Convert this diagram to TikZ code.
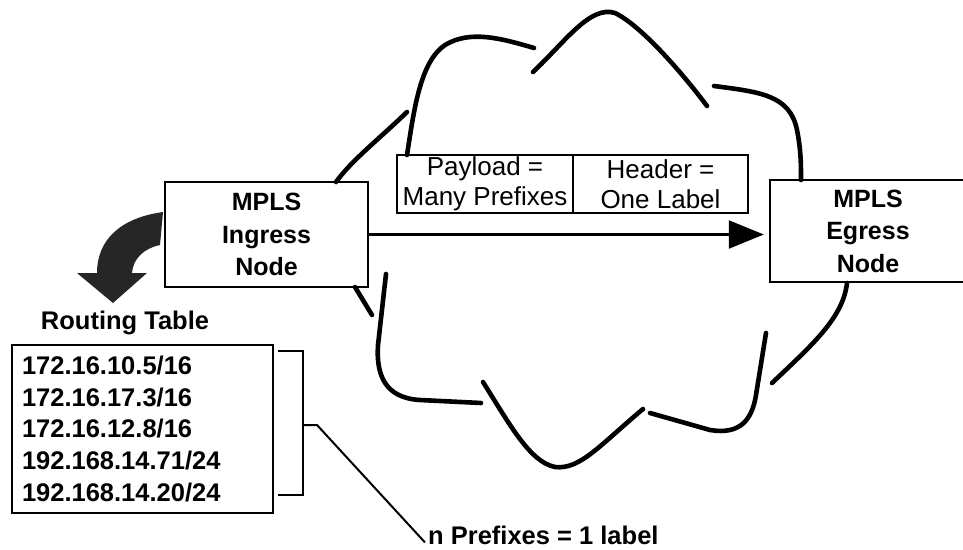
\documentclass[tikz,border=0pt]{standalone}
\usepackage{fontspec}
\setmainfont{Liberation Sans}
\usetikzlibrary{arrows.meta}
\begin{document}
\begin{tikzpicture}[x=1pt,y=-1pt,
  boxline/.style={line width=2.4pt},
  nodebox/.style={draw, boxline, inner sep=0pt, align=center,
    font=\fontsize{25}{32.5}\selectfont\bfseries},
  pktbox/.style={draw, line width=2pt, inner sep=0pt, align=center,
    minimum height=58, font=\fontsize{26}{29.5}\selectfont},
  cloud/.style={line width=4.6pt, line cap=round},
  flow/.style={line width=2.2pt, -{Triangle[length=35pt, width=28pt]}},
  bold25/.style={font=\fontsize{25.5}{31.6}\selectfont\bfseries}
]
\useasboundingbox (0,0) rectangle (963,549);

% routers
\node[nodebox, minimum width=203, minimum height=105] (ingress) at (266.5,234.5)
  {MPLS\\Ingress\\Node};
\node[nodebox, minimum width=196, minimum height=102] (egress) at (868,231)
  {MPLS\\Egress\\Node};

% labelled packet
\node[pktbox, minimum width=176] (payload) at (485,184) {Payload =\\Many Prefixes};
\node[pktbox, minimum width=175] (header) at (660.5,184) {Header =\\One Label};

% label switched path
\draw[flow, shorten >=5pt] (ingress.east) -- (ingress.east -| egress.west);

% MPLS cloud, drawn as separate strokes
\draw[cloud] (407,112) .. controls (378,140) and (352,160) .. (336,182);
\draw[cloud] (407,155) .. controls (414,110) and (420,62) .. (445,45)
  .. controls (470,30) and (500,38) .. (534,48);
\draw[cloud] (533,72) .. controls (565,42) and (590,5) .. (615,13)
  .. controls (640,25) and (680,70) .. (707,106);
\draw[cloud] (714,86) .. controls (760,92) and (790,95) .. (797,130)
  .. controls (801,150) and (801,165) .. (801,180);
\draw[cloud] (847,283) .. controls (843,318) and (812,345) .. (772,383);
\draw[cloud] (766,333) -- (756,395) .. controls (752,420) and (740,435) .. (710,430)
  -- (650,413);
\draw[cloud] (643,409) .. controls (600,445) and (580,470) .. (555,467)
  .. controls (530,462) and (510,425) .. (483,382);
\draw[cloud] (481,403) -- (420,400) .. controls (385,398) and (376,375) .. (378,345)
  -- (386,274);
\draw[cloud] (355,287) -- (372,315);

% curved arrow down to the routing table
\fill[black!85] (163,212) .. controls (120,218) and (97,240) .. (97,273)
  -- (77,273) -- (113,303) -- (147,273) -- (132,273)
  .. controls (133,258) and (145,248) .. (160,245) -- cycle;

% routing table
\node[bold25] (rtitle) at (125,323) {Routing Table};
\node[draw, boxline, bold25, inner sep=0pt, minimum width=261, minimum height=168,
  text width=241, align=left] (rtable) at (142.5,429)
  {172.16.10.5/16\\172.16.17.3/16\\172.16.12.8/16\\192.168.14.71/24\\192.168.14.20/24};

% bracket grouping the prefixes
\coordinate (btop) at (278,351);
\coordinate (bbot) at (278,495);
\coordinate (bmid) at (303,425);
\draw[line width=2.6pt] (btop) -| (bbot -| bmid) -- (bbot);
\node[bold25, anchor=base west, inner sep=0pt] (nlabel) at (428,544) {n Prefixes = 1 label};
\draw[line width=2pt] (bmid) -- ++(14,0) -- ([xshift=-3pt,yshift=2pt]nlabel.south west);
\end{tikzpicture}
\end{document}
